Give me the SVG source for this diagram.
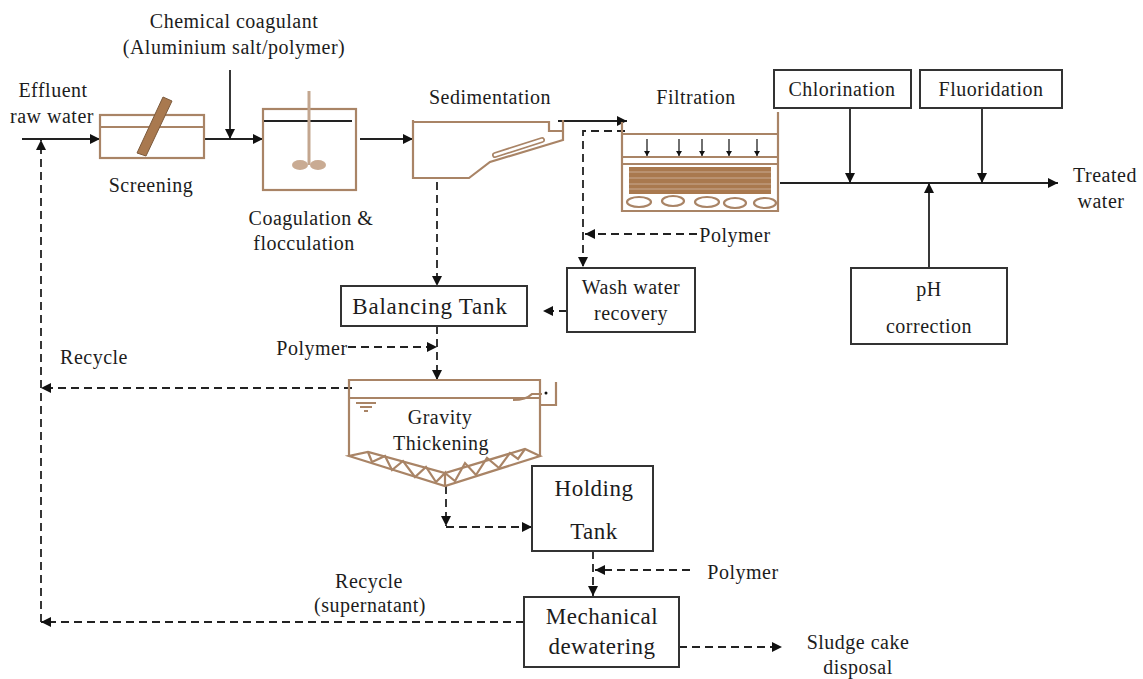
<svg xmlns="http://www.w3.org/2000/svg" width="1143" height="679" viewBox="0 0 1143 679">
<style>
text{font-family:"Liberation Serif","Times New Roman",serif;font-size:20px;letter-spacing:.5px;fill:#1c1c1c;text-anchor:middle}
.l{font-size:23px}
.b{fill:none;stroke:#a98466;stroke-width:2.2}
.k{fill:#fff;stroke:#333;stroke-width:2}
.c{fill:none;stroke:#222;stroke-width:1.8}
.a{marker-end:url(#ah)}
.d{stroke-dasharray:8 5}
</style>
<defs>
<marker id="ah" markerUnits="userSpaceOnUse" markerWidth="12" markerHeight="12" refX="10" refY="5" orient="auto"><path d="M0 0L10 5L0 10z" fill="#111"/></marker>
<marker id="sh" markerUnits="userSpaceOnUse" markerWidth="6" markerHeight="6" refX="5" refY="3" orient="auto"><path d="M0 0L5 3L0 6z" fill="#111"/></marker>
</defs>
<rect width="1143" height="679" fill="#fff"/>
<g id="connectors">
<path class="c a" d="M22 139H100"/>
<path class="c" d="M204 139H263"/><path class="c a" d="M240 139H263"/>
<path class="c a" d="M230 70V139"/>
<path class="c a" d="M360 139H413"/>
<path class="c a" d="M558 121H627"/>
<path class="c d a" d="M625 131H583V267"/>
<path class="c d a" d="M697 234H585"/>
<path class="c d a" d="M437 182V286"/>
<path class="c d a" d="M567 311H543"/>
<path class="c d a" d="M437 326V380"/>
<path class="c d a" d="M348 347H437"/>
<path class="c d a" d="M352 388H41"/>
<path class="c d a" d="M41 622V140"/>
<path class="c d a" d="M524 622H41"/>
<path class="c d a" d="M446 486V526"/>
<path class="c d a" d="M446 527H532"/>
<path class="c d a" d="M593 551V596"/>
<path class="c d a" d="M690 570H595"/>
<path class="c d a" d="M679 647H782"/>
<path class="c a" d="M780 183H1058"/>
<path class="c a" d="M850 108V183"/>
<path class="c a" d="M982 108V183"/>
<path class="c a" d="M929 268V183"/>
</g>
<g id="screening">
<rect class="b" x="100" y="115" width="104" height="43"/><path class="b" d="M100 127H204"/>
<path d="M163 97L172 101L146 156L137 153z" fill="#a9794f" stroke="#7c5a3c"/>
<text x="151" y="192">Screening</text>
</g>
<g id="coagulation">
<rect class="b" x="263" y="109" width="93" height="81"/>
<path d="M264 121H352" class="c"/>
<path d="M309 91V165" stroke="#c3a68f" stroke-width="3"/>
<ellipse cx="300" cy="165" rx="8" ry="5" fill="#c9ab93"/><ellipse cx="318" cy="165" rx="8" ry="5" fill="#c9ab93"/>
<text x="311" y="225">Coagulation &amp;</text><text x="304" y="250">flocculation</text>
</g>
<g id="sedimentation">
<path class="b" d="M413 120V178H469L490 162L563 140V120M413 122H549V131H563"/>
<path d="M495 155L542 140" fill="none" stroke="#a98466" stroke-width="6" stroke-linecap="round"/>
<path d="M495 155L542 140" fill="none" stroke="#fff" stroke-width="2.5" stroke-linecap="round"/>
<text x="490" y="104">Sedimentation</text>
</g>
<g id="filtration">
<path class="b" d="M622 122V211H778V112M622 134H778M622 157H778M622 164H778"/>
<path d="M629 167H771V194H629z" fill="#a9794f"/>
<path d="M629 172H771M629 178H771M629 184H771M629 189H771" stroke="#c9ab93"/>
<g class="b" stroke-width="2"><ellipse cx="639" cy="202" rx="12" ry="5"/><ellipse cx="673" cy="201" rx="11" ry="5"/><ellipse cx="707" cy="202" rx="12" ry="5"/><ellipse cx="735" cy="203" rx="11" ry="5"/><ellipse cx="765" cy="203" rx="11" ry="5"/></g>
<g stroke="#222" stroke-width="1.3" marker-end="url(#sh)"><path d="M647 139V156"/><path d="M679 139V156"/><path d="M702 139V156"/><path d="M729 139V156"/><path d="M757 139V156"/></g>
<text x="696" y="104">Filtration</text>
</g>
<g id="chlorination"><rect class="k" x="774" y="70" width="137" height="38"/><text x="842" y="96">Chlorination</text></g>
<g id="fluoridation"><rect class="k" x="920" y="70" width="142" height="38"/><text x="991" y="96">Fluoridation</text></g>
<g id="ph"><rect class="k" x="851" y="268" width="156" height="76"/><text x="929" y="296">pH</text><text x="929" y="333">correction</text></g>
<g id="wash"><rect class="k" x="567" y="268" width="128" height="64"/><text x="631" y="294">Wash water</text><text x="631" y="320">recovery</text></g>
<g id="balancing"><rect class="k" x="341" y="286" width="186" height="40"/><text x="430" y="314" class="l" style="letter-spacing:.8px">Balancing Tank</text></g>
<g id="thickening">
<path class="b" d="M349 456V380H540V456M349 398H540"/>
<path class="b" d="M349 456L445 486L540 456L525 449L445 473L368 452z"/>
<path class="b" stroke-width="1.5" d="M368 452L372 462L385 456L392 470L403 461L415 477L426 467L436 482L445 473V486M445 473L455 481L465 463L476 475L487 458L499 468L510 453L518 459L525 449"/>
<path class="b" stroke-width="1.5" d="M513 400Q526 400 532 394L542 394M356 403H376M360 407H372M364 411H368"/>
<path class="b" d="M541 405H556V382"/>
<circle cx="546" cy="393" r="1.5" fill="#111"/>
<text x="440" y="424">Gravity</text><text x="441" y="450">Thickening</text>
</g>
<g id="holding"><rect class="k" x="532" y="466" width="121" height="85"/><text x="594" y="496" class="l">Holding</text><text x="594" y="539" class="l">Tank</text></g>
<g id="dewatering"><rect class="k" x="524" y="597" width="155" height="70"/><text x="602" y="624" class="l">Mechanical</text><text x="602" y="654" class="l">dewatering</text></g>
<g id="labels">
<text x="234" y="28">Chemical coagulant</text>
<text x="234" y="54">(Aluminium salt/polymer)</text>
<text x="53" y="97">Effluent</text>
<text x="52" y="123">raw water</text>
<text x="1105" y="182">Treated</text>
<text x="1101" y="208">water</text>
<text x="735" y="242">Polymer</text>
<text x="94" y="364">Recycle</text>
<text x="312" y="355">Polymer</text>
<text x="743" y="579">Polymer</text>
<text x="369" y="588">Recycle</text>
<text x="370" y="612">(supernatant)</text>
<text x="858" y="649">Sludge cake</text>
<text x="858" y="674">disposal</text>
</g>
</svg>
